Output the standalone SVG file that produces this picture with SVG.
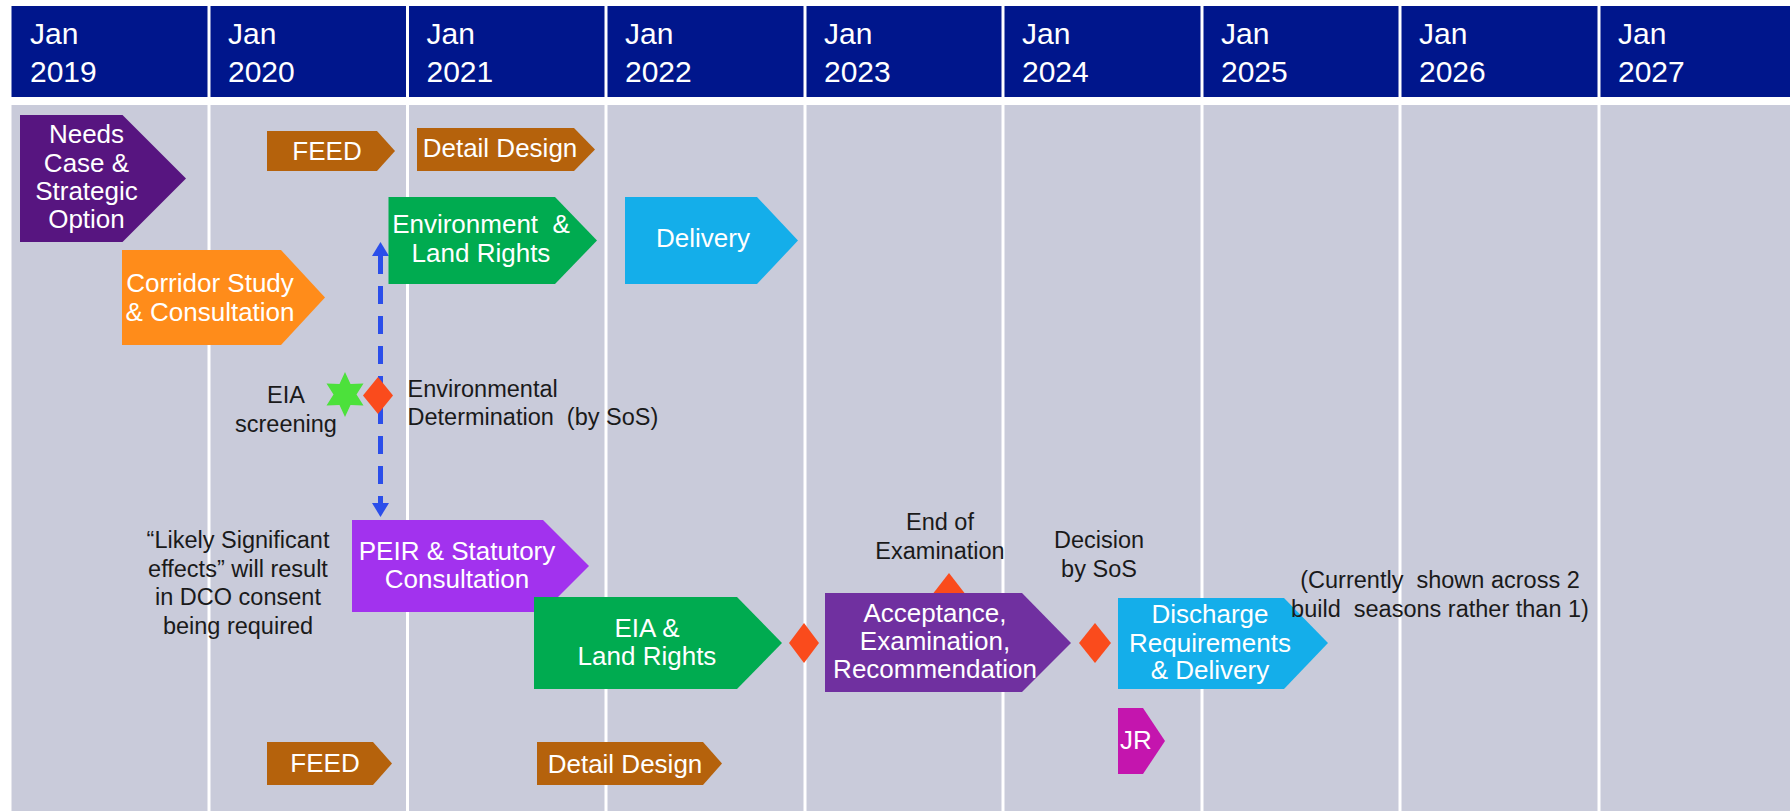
<svg xmlns="http://www.w3.org/2000/svg" width="1790" height="811" viewBox="0 0 1790 811">
<style>
text{font-family:"Liberation Sans",Arial,sans-serif;}
.hd{fill:#ffffff;font-size:30px;}
.lbl{fill:#ffffff;font-size:26px;text-anchor:middle;}
.note{fill:#1a1a1a;font-size:23.5px;}
.mid{text-anchor:middle;}
.div{stroke:#ffffff;stroke-width:3;}
.dia{fill:#fa4b1c;}
</style>
<defs>
<marker id="ah" markerUnits="userSpaceOnUse" markerWidth="16" markerHeight="20" viewBox="0 -10 16 20" refX="0" refY="0" orient="auto-start-reverse">
<path d="M0,-8.5 L14,0 L0,8.5 Z" fill="#2b4eea"/>
</marker>
</defs>
<rect width="1790" height="811" fill="#ffffff"/>
<g id="header">
<rect x="11.5" y="6" width="1778.5" height="91" fill="#00168c"/>
<g class="div">
<line x1="209" y1="6" x2="209" y2="97"/><line x1="407.5" y1="6" x2="407.5" y2="97"/><line x1="606" y1="6" x2="606" y2="97"/><line x1="805" y1="6" x2="805" y2="97"/><line x1="1003" y1="6" x2="1003" y2="97"/><line x1="1202" y1="6" x2="1202" y2="97"/><line x1="1400" y1="6" x2="1400" y2="97"/><line x1="1599" y1="6" x2="1599" y2="97"/>
</g>
<text class="hd" x="30" y="44">Jan<tspan x="30" y="82">2019</tspan></text>
<text class="hd" x="228" y="44">Jan<tspan x="228" y="82">2020</tspan></text>
<text class="hd" x="426.5" y="44">Jan<tspan x="426.5" y="82">2021</tspan></text>
<text class="hd" x="625" y="44">Jan<tspan x="625" y="82">2022</tspan></text>
<text class="hd" x="824" y="44">Jan<tspan x="824" y="82">2023</tspan></text>
<text class="hd" x="1022" y="44">Jan<tspan x="1022" y="82">2024</tspan></text>
<text class="hd" x="1221" y="44">Jan<tspan x="1221" y="82">2025</tspan></text>
<text class="hd" x="1419" y="44">Jan<tspan x="1419" y="82">2026</tspan></text>
<text class="hd" x="1618" y="44">Jan<tspan x="1618" y="82">2027</tspan></text>
</g>
<g id="body">
<rect x="11.5" y="105" width="1778.5" height="706" fill="#c9cbda"/>
<g class="div">
<line x1="209" y1="105" x2="209" y2="811"/><line x1="407.5" y1="105" x2="407.5" y2="811"/><line x1="606" y1="105" x2="606" y2="811"/><line x1="805" y1="105" x2="805" y2="811"/><line x1="1003" y1="105" x2="1003" y2="811"/><line x1="1202" y1="105" x2="1202" y2="811"/><line x1="1400" y1="105" x2="1400" y2="811"/><line x1="1599" y1="105" x2="1599" y2="811"/>
</g>
</g>
<g id="connectors">
<path d="M380.5,256 V503" fill="none" stroke="#2b4eea" stroke-width="5" stroke-dasharray="18 12" marker-start="url(#ah)" marker-end="url(#ah)"/>
</g>
<g id="needs-case">
<path d="M20,115 H122.5 L186,178.5 L122.5,242 H20 Z" fill="#571580"/>
<text class="lbl" x="86.5" y="143">Needs<tspan x="86.5" y="172">Case &amp;</tspan><tspan x="86.5" y="200">Strategic</tspan><tspan x="86.5" y="228">Option</tspan></text>
</g>
<g id="feed-top">
<path d="M267,131 H377 L395,151 L377,171 H267 Z" fill="#b5620c"/>
<text class="lbl" x="327" y="160">FEED</text>
</g>
<g id="detail-design-top">
<path d="M417,128 H574 L595,149.5 L574,171 H417 Z" fill="#b5620c"/>
<text class="lbl" x="500" y="157">Detail Design</text>
</g>
<g id="environment-land-rights">
<path d="M388.5,197 H555 L597,240.5 L555,284 H388.5 Z" fill="#00ab50"/>
<text class="lbl" x="481" y="233" xml:space="preserve">Environment  &amp;<tspan x="481" y="262">Land Rights</tspan></text>
</g>
<g id="delivery">
<path d="M625,197 H757 L798,240.5 L757,284 H625 Z" fill="#14aeea"/>
<text class="lbl" x="703" y="247">Delivery</text>
</g>
<g id="corridor-study">
<path d="M122,250 H281 L325,297.5 L281,345 H122 Z" fill="#ff8c1a"/>
<text class="lbl" x="210" y="292">Corridor Study<tspan x="210" y="321">&amp; Consultation</tspan></text>
</g>
<g id="eia-screening">
<polygon points="345,372 350.5,384 363.5,383.5 356.5,394.5 363.5,405.5 350.5,405 345,417 339.5,405 326.5,405.5 333.5,394.5 326.5,383.5 339.5,384" fill="#4ce13b"/>
<text class="note mid" x="286" y="403">EIA<tspan x="286" y="432">screening</tspan></text>
</g>
<g id="environmental-determination">
<path class="dia" d="M378,377 L393,395.5 L378,414 L363,395.5 Z"/>
<text class="note" x="407.5" y="397" xml:space="preserve">Environmental<tspan x="407.5" y="425">Determination  (by SoS)</tspan></text>
</g>
<g id="likely-significant-note">
<text class="note mid" x="238" y="548">“Likely Significant<tspan x="238" y="576.5">effects” will result</tspan><tspan x="238" y="605">in DCO consent</tspan><tspan x="238" y="633.5">being required</tspan></text>
</g>
<g id="peir">
<path d="M352,520 H543 L589,566 L543,612 H352 Z" fill="#a232ee"/>
<text class="lbl" x="457" y="560">PEIR &amp; Statutory<tspan x="457" y="588">Consultation</tspan></text>
</g>
<g id="eia-land-rights">
<path d="M534,597 H737 L782,643 L737,689 H534 Z" fill="#00ab50"/>
<text class="lbl" x="647" y="637">EIA &amp;<tspan x="647" y="665">Land Rights</tspan></text>
</g>
<g id="submission-milestone">
<path class="dia" d="M804,623 L819,643 L804,663 L789,643 Z"/>
</g>
<g id="end-of-examination">
<path class="dia" d="M949,573 L964.5,593 L949,613 L933.5,593 Z"/>
<text class="note mid" x="940" y="530">End of<tspan x="940" y="559">Examination</tspan></text>
</g>
<g id="acceptance">
<path d="M825,593 H1022 L1071,643 L1022,692 H825 Z" fill="#7030a0"/>
<text class="lbl" x="935" y="622">Acceptance,<tspan x="935" y="650">Examination,</tspan><tspan x="935" y="678">Recommendation</tspan></text>
</g>
<g id="decision-by-sos">
<path class="dia" d="M1095,623 L1111,643 L1095,663 L1079,643 Z"/>
<text class="note mid" x="1099" y="548">Decision<tspan x="1099" y="577">by SoS</tspan></text>
</g>
<g id="discharge">
<path d="M1118,598 H1284 L1328,643 L1284,689 H1118 Z" fill="#14aeea"/>
<text class="lbl" x="1210" y="623">Discharge<tspan x="1210" y="652">Requirements</tspan><tspan x="1210" y="679">&amp; Delivery</tspan></text>
</g>
<g id="build-seasons-note">
<text class="note mid" x="1440" y="588" xml:space="preserve">(Currently  shown across 2<tspan x="1440" y="617">build  seasons rather than 1)</tspan></text>
</g>
<g id="jr">
<path d="M1118,708 H1143 L1165,741 L1143,774 H1118 Z" fill="#c415ae"/>
<text class="lbl" x="1136" y="749">JR</text>
</g>
<g id="feed-bottom">
<path d="M267,742 H373 L392,763.5 L373,785 H267 Z" fill="#b5620c"/>
<text class="lbl" x="325" y="772">FEED</text>
</g>
<g id="detail-design-bottom">
<path d="M537,742 H703 L722,763.5 L703,785 H537 Z" fill="#b5620c"/>
<text class="lbl" x="625" y="773">Detail Design</text>
</g>
</svg>
